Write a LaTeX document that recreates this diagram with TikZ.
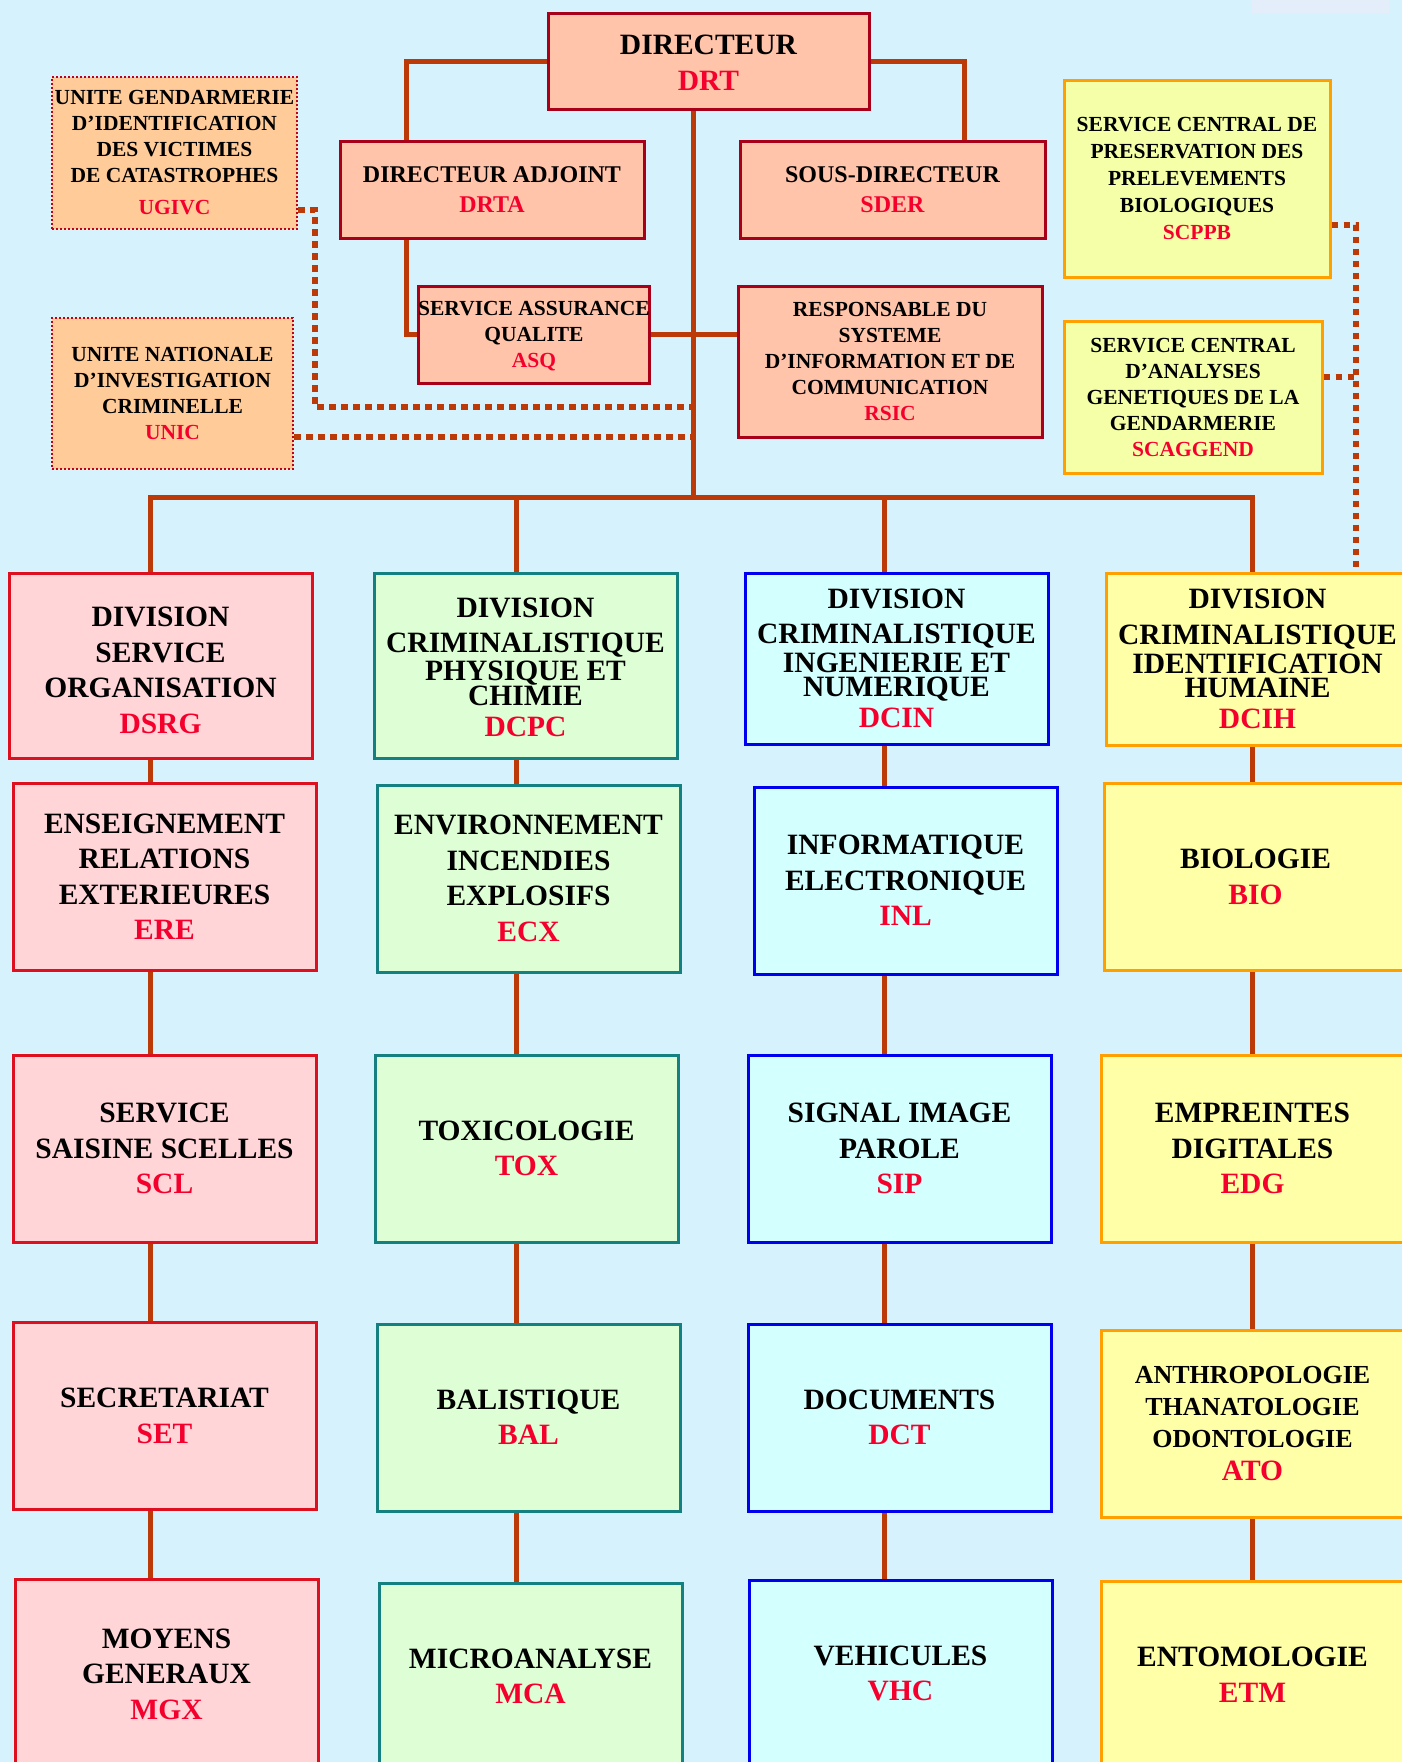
\documentclass[tikz,border=0pt]{standalone}
\usepackage{fontspec}
\setmainfont{Liberation Serif}
\definecolor{bgc}{RGB}{213,242,253}
\definecolor{linec}{RGB}{188,58,8}
\definecolor{redtext}{RGB}{245,0,45}
\definecolor{dirfill}{RGB}{255,196,170}
\definecolor{dirdraw}{RGB}{168,0,24}
\definecolor{unitfill}{RGB}{255,204,153}
\definecolor{unitdraw}{RGB}{190,0,30}
\definecolor{scfill}{RGB}{245,255,168}
\definecolor{scdraw}{RGB}{255,160,0}
\definecolor{cafill}{RGB}{255,213,216}
\definecolor{cadraw}{RGB}{222,16,32}
\definecolor{cbfill}{RGB}{222,255,213}
\definecolor{cbdraw}{RGB}{20,128,128}
\definecolor{ccfill}{RGB}{212,255,255}
\definecolor{ccdraw}{RGB}{0,0,240}
\definecolor{cdfill}{RGB}{255,255,168}
\definecolor{cddraw}{RGB}{255,160,0}
\definecolor{tagc}{RGB}{228,238,250}
\newcommand\redtxt[1]{\textcolor{redtext}{#1}}
\newcommand\topstrut[1]{\rule{0pt}{#1}}
\tikzset{
  basebox/.style={rectangle, inner sep=0pt, line width=3pt, align=center, text=black},
  bigtxt/.style={font=\fontsize{29.5}{35.5}\selectfont\bfseries},
  midtxt/.style={font=\fontsize{24}{30}\selectfont\bfseries},
  smalltxt/.style={font=\fontsize{21.5}{26}\selectfont\bfseries},
  scptxt/.style={font=\fontsize{21.5}{27}\selectfont\bfseries},
  atotxt/.style={font=\fontsize{26}{32}\selectfont\bfseries},
  dirbox/.style={basebox, fill=dirfill, draw=dirdraw},
  unitbox/.style={basebox, fill=unitfill, draw=unitdraw, line width=2pt, dash pattern=on 2pt off 2pt},
  scbox/.style={basebox, fill=scfill, draw=scdraw},
  cabox/.style={basebox, fill=cafill, draw=cadraw, minimum width=303, minimum height=187, bigtxt},
  cbbox/.style={basebox, fill=cbfill, draw=cbdraw, minimum width=303, minimum height=187, bigtxt},
  ccbox/.style={basebox, fill=ccfill, draw=ccdraw, minimum width=303, minimum height=187, bigtxt},
  cdbox/.style={basebox, fill=cdfill, draw=cddraw, minimum width=303, minimum height=187, bigtxt},
  conn/.style={draw=linec, line width=5pt, line join=miter},
  dotconn/.style={draw=linec, line width=5.5pt, dash pattern=on 6.5pt off 5.5pt},
}
\begin{document}
\begin{tikzpicture}[x=1pt,y=-1pt]
\useasboundingbox (0,0) rectangle (1402,1762);
\fill[bgc] (0,0) rectangle (1402,1762);
\begin{scope}
\clip (0,0) rectangle (1402,1762);
\fill[tagc] (1252,0) rectangle (1389,13);

% ---- top management ----
\node[dirbox, bigtxt, minimum width=321, minimum height=96] (DRT) at (708.5,61) {\topstrut{23pt}DIRECTEUR\\[0.5pt]\redtxt{DRT}};
\node[dirbox, midtxt, minimum width=304, minimum height=97] (DRTA) at (492,189.5) {DIRECTEUR ADJOINT\\\redtxt{DRTA}};
\node[dirbox, midtxt, minimum width=305, minimum height=97] (SDER) at (892.5,189.5) {SOUS-DIRECTEUR\\\redtxt{SDER}};
\node[dirbox, smalltxt, minimum width=228, minimum height=97] (ASQ) at (534,334.5) {\topstrut{18pt}SERVICE ASSURANCE\\QUALITE\\\redtxt{ASQ}};
\node[dirbox, smalltxt, minimum width=304, minimum height=151] (RSIC) at (890,361.5) {RESPONSABLE DU\\SYSTEME\\D’INFORMATION ET DE\\COMMUNICATION\\\redtxt{RSIC}};
\node[unitbox, smalltxt, minimum width=245, minimum height=152] (UGIVC) at (174.5,153) {UNITE GENDARMERIE\\D’IDENTIFICATION\\DES VICTIMES\\DE CATASTROPHES\\[6pt]\redtxt{UGIVC}};
\node[unitbox, smalltxt, minimum width=241, minimum height=151] (UNIC) at (172.5,393.5) {UNITE NATIONALE\\D’INVESTIGATION\\CRIMINELLE\\\redtxt{UNIC}};
\node[scbox, scptxt, minimum width=266, minimum height=197] (SCPPB) at (1197,178.5) {SERVICE CENTRAL DE\\PRESERVATION DES\\PRELEVEMENTS\\BIOLOGIQUES\\\redtxt{SCPPB}};
\node[scbox, smalltxt, minimum width=258, minimum height=152] (SCAGGEND) at (1193,397) {SERVICE CENTRAL\\D’ANALYSES\\GENETIQUES DE LA\\GENDARMERIE\\\redtxt{SCAGGEND}};

% ---- divisions ----
\node[cabox, minimum height=185] (DSRG) at (160.5,665.5) {\topstrut{29pt}DIVISION\\SERVICE\\ORGANISATION\\\redtxt{DSRG}};
\node[cbbox, minimum height=185] (DCPC) at (525.5,665.5) {\topstrut{23pt}DIVISION\\CRIMINALISTIQUE\\[-7.5pt]PHYSIQUE ET\\[-10.5pt]CHIMIE\\[-4.5pt]\redtxt{DCPC}};
\node[ccbox, minimum height=171] (DCIN) at (896.5,658.5) {DIVISION\\CRIMINALISTIQUE\\[-6.5pt]INGENIERIE ET\\[-11.5pt]NUMERIQUE\\[-4.5pt]\redtxt{DCIN}};
\node[cdbox, minimum height=172] (DCIH) at (1257.5,659) {DIVISION\\CRIMINALISTIQUE\\[-6.5pt]IDENTIFICATION\\[-11.5pt]HUMAINE\\[-4.5pt]\redtxt{DCIH}};

% ---- row 2 ----
\node[cabox] (ERE) at (164.5,876.5) {ENSEIGNEMENT\\RELATIONS\\EXTERIEURES\\\redtxt{ERE}};
\node[cbbox] (ECX) at (528.5,878.5) {ENVIRONNEMENT\\INCENDIES\\EXPLOSIFS\\\redtxt{ECX}};
\node[ccbox] (INL) at (905.5,880.5) {INFORMATIQUE\\ELECTRONIQUE\\\redtxt{INL}};
\node[cdbox] (BIO) at (1255.5,877) {BIOLOGIE\\\redtxt{BIO}};

% ---- row 3 ----
\node[cabox] (SCL) at (164.5,1148.5) {SERVICE\\SAISINE SCELLES\\\redtxt{SCL}};
\node[cbbox] (TOX) at (526.5,1148.5) {TOXICOLOGIE\\\redtxt{TOX}};
\node[ccbox] (SIP) at (899.5,1148.5) {SIGNAL IMAGE\\PAROLE\\\redtxt{SIP}};
\node[cdbox] (EDG) at (1252.5,1148.5) {EMPREINTES\\DIGITALES\\\redtxt{EDG}};

% ---- row 4 ----
\node[cabox] (SET) at (164.5,1416) {SECRETARIAT\\\redtxt{SET}};
\node[cbbox] (BAL) at (528.5,1417.5) {BALISTIQUE\\\redtxt{BAL}};
\node[ccbox] (DCT) at (899.5,1417.5) {DOCUMENTS\\\redtxt{DCT}};
\node[cdbox, atotxt] (ATO) at (1252.5,1424) {ANTHROPOLOGIE\\THANATOLOGIE\\ODONTOLOGIE\\[1pt]\redtxt{\fontsize{29.5}{35.5}\selectfont ATO}};

% ---- row 5 ----
\node[cabox] (MGX) at (166.5,1672.5) {\topstrut{23pt}MOYENS\\GENERAUX\\\redtxt{MGX}};
\node[cbbox] (MCA) at (530.5,1676.5) {MICROANALYSE\\\redtxt{MCA}};
\node[ccbox] (VHC) at (900.5,1673.5) {VEHICULES\\\redtxt{VHC}};
\node[cdbox] (ETM) at (1252.5,1674.5) {ENTOMOLOGIE\\\redtxt{ETM}};

% ---- coordinates ----
\coordinate (ja) at (406,61);
\coordinate (jb) at (964,61);
\coordinate (t) at (693,497);
\coordinate (b1) at (150,497);
\coordinate (b2) at (516.5,497);
\coordinate (b3) at (884,497);
\coordinate (b4) at (1252,497);
\coordinate (d1) at (315,210);
\coordinate (d2) at (693,407);
\coordinate (d3) at (693,437);
\coordinate (d4) at (1356,225);
\coordinate (d5) at (1356,377);

% ---- connectors ----
\draw[conn] (DRT.west) -- (ja) -- (DRTA.north -| ja);
\draw[conn] (DRTA.south -| ja) |- (ASQ.west);
\draw[conn] (DRT.east) -- (jb) -- (SDER.north -| jb);
\draw[conn] (ASQ.east) -- (RSIC.west |- ASQ.east);
\draw[conn] (DRT.south -| t) -- (t);
\draw[conn] (b1 |- DSRG.north) -- (b1) -- (b4) -- (b4 |- DCIH.north);
\draw[conn] (b2) -- (b2 |- DCPC.north);
\draw[conn] (b3) -- (b3 |- DCIN.north);

\draw[conn] (DSRG.south -| b1) -- (ERE.north -| b1);
\draw[conn] (ERE.south -| b1) -- (SCL.north -| b1);
\draw[conn] (SCL.south -| b1) -- (SET.north -| b1);
\draw[conn] (SET.south -| b1) -- (MGX.north -| b1);

\draw[conn] (DCPC.south -| b2) -- (ECX.north -| b2);
\draw[conn] (ECX.south -| b2) -- (TOX.north -| b2);
\draw[conn] (TOX.south -| b2) -- (BAL.north -| b2);
\draw[conn] (BAL.south -| b2) -- (MCA.north -| b2);

\draw[conn] (DCIN.south -| b3) -- (INL.north -| b3);
\draw[conn] (INL.south -| b3) -- (SIP.north -| b3);
\draw[conn] (SIP.south -| b3) -- (DCT.north -| b3);
\draw[conn] (DCT.south -| b3) -- (VHC.north -| b3);

\draw[conn] (DCIH.south -| b4) -- (BIO.north -| b4);
\draw[conn] (BIO.south -| b4) -- (EDG.north -| b4);
\draw[conn] (EDG.south -| b4) -- (ATO.north -| b4);
\draw[conn] (ATO.south -| b4) -- (ETM.north -| b4);

\draw[dotconn] (UGIVC.east |- d1) -- (d1) |- (d2);
\draw[dotconn] (UNIC.east |- d3) -- (d3);
\draw[dotconn] (SCPPB.east |- d4) -- (d4) -- (DCIH.north -| d4);
\draw[dotconn] (SCAGGEND.east |- d5) -- (d5);
\end{scope}
\end{tikzpicture}
\end{document}
